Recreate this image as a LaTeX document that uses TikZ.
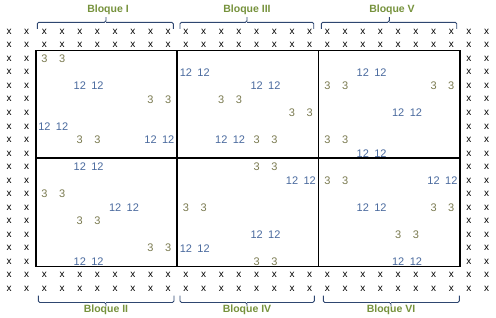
\documentclass[tikz,border=0pt]{standalone}
\usepackage{fontspec}
\setmainfont{Liberation Sans}
\definecolor{threecol}{HTML}{7A7A50}
\definecolor{twelvecol}{HTML}{4A6A9E}
\definecolor{lblcol}{HTML}{76923C}
\definecolor{bracecol}{HTML}{2E4670}
\tikzset{
  xm/.style={font=\fontsize{10}{10}\selectfont, text=black, inner sep=0pt},
  three/.style={font=\fontsize{11}{11}\selectfont, text=threecol, inner sep=0pt},
  twelve/.style={font=\fontsize{11}{11}\selectfont, text=twelvecol, inner sep=0pt},
  lbl/.style={font=\bfseries\fontsize{10.5}{10.5}\selectfont, text=lblcol, inner sep=0pt},
  bracket/.style={draw=bracecol, line width=0.9pt, rounded corners=1.5pt},
  frame/.style={draw=black, line width=1.6pt}
}
\begin{document}
\begin{tikzpicture}
\useasboundingbox (0,0) rectangle (496pt,-317pt);
% grid of x marks
\begin{scope}[x=17.69pt, y=-13.53pt, shift={(9pt,-31.7pt)}]
  \foreach \i in {0,...,27} {
    \foreach \j in {0,1,18,19} {
      \node[xm] (x-\i-\j) at (\i,\j) {x};
    }
  }
  \foreach \i in {0,1,26,27} {
    \foreach \j in {2,...,17} {
      \node[xm] (x-\i-\j) at (\i,\j) {x};
    }
  }
  % numbers: block origin (bx,by); entries c/r/style
  \foreach \bx/\by/\list in {
      2/2/{0/0/three,2/2/twelve,6/3/three,0/5/twelve,2/6/three,6/6/twelve},
      10/2/{0/1/twelve,4/2/twelve,2/3/three,6/4/three,2/6/twelve,4/6/three},
      18/2/{2/1/twelve,0/2/three,6/2/three,4/4/twelve,0/6/three,2/7/twelve},
      2/10/{2/0/twelve,0/2/three,4/3/twelve,2/4/three,6/6/three,2/7/twelve},
      10/10/{4/0/three,6/1/twelve,0/3/three,0/6/twelve,4/5/twelve,4/7/three},
      18/10/{0/1/three,6/1/twelve,2/3/twelve,6/3/three,4/5/three,4/7/twelve}} {
    \foreach \c/\r/\s in \list {
      \pgfmathtruncatemacro{\ca}{\bx+\c}
      \pgfmathtruncatemacro{\cb}{\bx+\c+1}
      \pgfmathtruncatemacro{\rr}{\by+\r}
      \node[\s] (n-\ca-\rr) at (\ca,\rr) {\ifnum\pdfstrcmp{\s}{three}=0 3\else 12\fi};
      \node[\s] (n-\cb-\rr) at (\cb,\rr) {\ifnum\pdfstrcmp{\s}{three}=0 3\else 12\fi};
    }
  }
\end{scope}
% frame
\draw[frame] (36pt,-50.5pt) rectangle (459.8pt,-266.5pt);
\draw[frame] (176.9pt,-50.5pt) -- (176.9pt,-266.5pt);
\draw[frame] (318.4pt,-50.5pt) -- (318.4pt,-266.5pt);
\draw[frame] (36pt,-157.8pt) -- (459.8pt,-157.8pt);
% top brackets and labels
\foreach \a/\b/\m/\t/\lx in {37.3/173.3/106/Bloque I/108,180/313.7/247/Bloque III/247,321.3/456.7/389.3/Bloque V/392} {
  \draw[bracket] (\a pt,-28.8pt) -- (\a pt,-22.3pt) -- (\m pt,-22.3pt) -- (\m pt,-17pt)
     (\m pt,-22.3pt) -- (\b pt,-22.3pt) -- (\b pt,-28.8pt);
  \node[lbl] (lbl-\m) at (\lx pt,-9.5pt) {\t};
}
% bottom brackets and labels
\foreach \a/\b/\m/\t/\lx in {38.3/174/106/Bloque II/106,180/314.3/247/Bloque IV/247,323.3/459.3/391/Bloque VI/391} {
  \draw[bracket] (\a pt,-295.5pt) -- (\a pt,-302.5pt) -- (\m pt,-302.5pt) -- (\m pt,-306pt)
     (\m pt,-302.5pt) -- (\b pt,-302.5pt) -- (\b pt,-295.5pt);
  \node[lbl] (lblb-\m) at (\lx pt,-310pt) {\t};
}
\end{tikzpicture}
\end{document}
